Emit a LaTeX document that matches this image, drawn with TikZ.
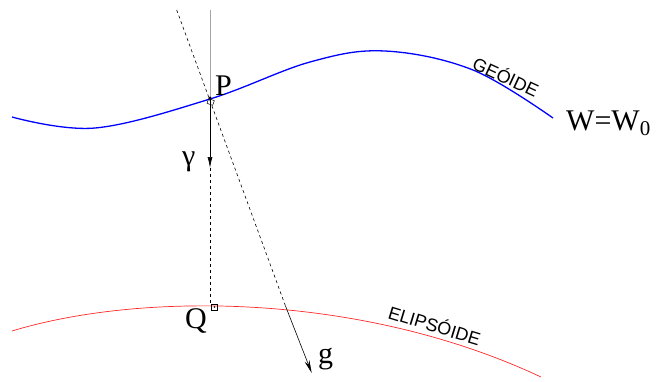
\documentclass[tikz,border=0pt]{standalone}
\usepackage{fontspec}
\setmainfont{Liberation Serif}
\newfontfamily\arialf{Liberation Sans}
\usetikzlibrary{arrows.meta}
\definecolor{geoblue}{RGB}{0,0,255}
\definecolor{elred}{RGB}{255,40,40}
\tikzset{
  geoid/.style={draw=geoblue, line width=1.3pt},
  ellips/.style={draw=elred, line width=0.7pt},
  thin dash/.style={dash pattern=on 3pt off 3pt, line width=0.6pt},
  lbl/.style={inner sep=0pt, anchor=base west, font=\fontsize{30}{34}\selectfont},
  curvelbl/.style={inner sep=0pt, anchor=base west, font=\arialf\fontsize{18}{21}\selectfont},
}
\begin{document}
\begin{tikzpicture}[x=1pt,y=-1pt]
\useasboundingbox (0,0) rectangle (659,381);
% key points
\coordinate (Ptop) at (210,10);
\coordinate (P) at (210,98);
\coordinate (gam) at (210,168);
\coordinate (Q) at (210,304);
\coordinate (Stop) at (176.7,10);
\coordinate (Sell) at (285.5,306);
\coordinate (gtip) at (311.7,373);
% geoid and ellipsoid
\draw[geoid] plot[smooth, tension=0.6] coordinates {(12,117) (95,128) (210,99) (310,62) (385,51) (473,70) (553,118)};
\draw[ellips] (12,331) .. controls (140,292) and (360,292) .. (541,377);
% vertical line
\draw[gray!70, line width=0.7pt] (Ptop) -- (P);
\draw[line width=0.7pt, -{Latex[length=11pt,width=5pt]}] (P) -- (gam);
\draw[thin dash] (gam) -- (Q);
% slanted line
\draw[thin dash] (Stop) -- (Sell);
\draw[line width=0.6pt, -{Stealth[length=13pt,width=5pt]}] (Sell) -- (gtip);
% right-angle marks
\draw[line width=0.5pt] ([xshift=1.5pt]Q) rectangle ([xshift=7.5pt,yshift=-6pt]Q);
\fill ([xshift=4.5pt,yshift=-3pt]Q) circle (0.8pt);
\draw[line width=0.5pt, rotate around={-20:(P)}] ([xshift=-1pt,yshift=-1pt]P) rectangle ([xshift=5pt,yshift=-6pt]P);
\fill (P) circle (1.6pt);
% labels
\node[lbl] (lP) at (215,95) {P};
\node[lbl] (lQ) at (185,328) {Q};
\node[lbl] (lgam) at (182,165) {γ};
\node[lbl] (lg) at (318,363) {g};
\node[lbl] (lW) at (566,130) {W=W\raisebox{-0.18em}{\fontsize{21}{24}\selectfont 0}};
\node[curvelbl, rotate=-25] (lgeo) at (471,68) {GEÓIDE};
\node[curvelbl, rotate=-17] (lell) at (387,318) {ELIPSÓIDE};
\end{tikzpicture}
\end{document}
